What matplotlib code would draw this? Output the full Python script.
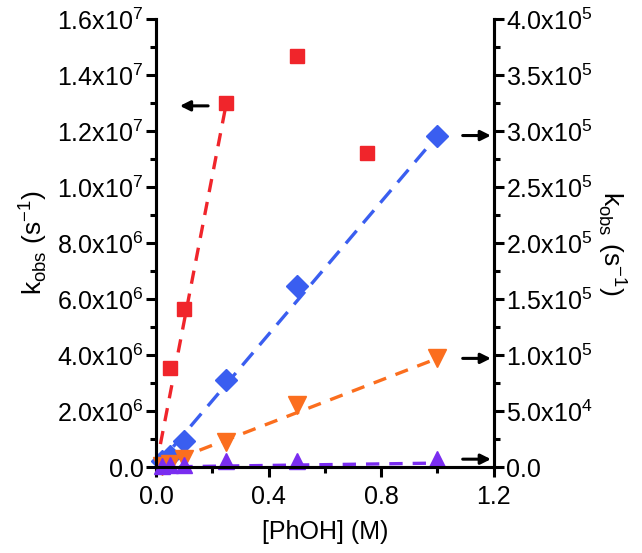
import numpy as np
import matplotlib.pyplot as plt
from matplotlib.ticker import FuncFormatter, MultipleLocator

plt.rcParams['font.family'] = ['Liberation Sans', 'DejaVu Sans']
plt.rcParams['mathtext.fontset'] = 'custom'
plt.rcParams['mathtext.rm'] = 'Liberation Sans'

# red series (left axis)
x_red = [0.05, 0.1, 0.25, 0.5, 0.75]
k_red = [3.55e6, 5.65e6, 1.30e7, 1.467e7, 1.12e7]

# right axis series
x_blue = [0.02, 0.05, 0.1, 0.25, 0.5, 1.0]
k_blue = [5.0e3, 1.0e4, 2.3e4, 7.8e4, 1.62e5, 2.96e5]
x_orange = [0.02, 0.05, 0.1, 0.25, 0.5, 1.0]
k_orange = [1.0e3, 3.0e3, 7.5e3, 2.2e4, 5.5e4, 9.7e4]
x_purple = [0.02, 0.05, 0.1, 0.25, 0.5, 1.0]
k_purple = [1.0e3, 1.5e3, 2.0e3, 5.0e3, 5.5e3, 7.0e3]

# slopes of the dashed linear fits
slope_red = 5.2e7
slope_blue = 2.96e5
slope_orange = 9.7e4
slope_purple = 3.5e3

red = '#f0252b'
blue = '#3a5ef0'
orange = '#fb6e1e'
purple = '#7a2df0'


def sci(v, pos):
    if v == 0:
        return '0.0'
    e = int(np.floor(np.log10(abs(v))))
    m = v / 10**e
    return r'%.1fx10$^{\mathrm{%d}}$' % (m, e)


fig = plt.figure(figsize=(6.42, 5.53), dpi=100)
ax = fig.add_axes([0.243, 0.1555, 0.526, 0.81])
ax2 = ax.twinx()

# fit lines through origin
xl = np.array([0, 0.25])
ax.plot(xl, xl * slope_red, '--', color=red, lw=2.4, dashes=(4, 3))
ax.plot(x_red, k_red, 's', color=red, ms=10, ls='none', clip_on=False)

xl2 = np.array([0, 1.0])
ax2.plot(xl2, xl2 * slope_blue, '--', color=blue, lw=2.4, dashes=(5, 3))
ax2.plot(xl2, xl2 * slope_orange, '--', color=orange, lw=2.4, dashes=(4, 3))
ax2.plot(xl2, xl2 * slope_purple, '--', color=purple, lw=2.4, dashes=(4, 3))
ax2.plot(x_blue, k_blue, 'D', color=blue, ms=11, ls='none', clip_on=False)
ax2.plot(x_orange, k_orange, 'v', color=orange, ms=13, ls='none', clip_on=False)
ax2.plot(x_purple, k_purple, '^', color=purple, ms=11, ls='none', clip_on=False)

ax.set_xlim(0, 1.2)
ax.set_ylim(0, 1.6e7)
ax2.set_ylim(0, 4.0e5)

ax.xaxis.set_major_locator(MultipleLocator(0.4))
ax.xaxis.set_minor_locator(MultipleLocator(0.2))
ax.yaxis.set_major_locator(MultipleLocator(2e6))
ax.yaxis.set_minor_locator(MultipleLocator(1e6))
ax2.yaxis.set_major_locator(MultipleLocator(5e4))
ax2.yaxis.set_minor_locator(MultipleLocator(2.5e4))
ax.yaxis.set_major_formatter(FuncFormatter(sci))
ax2.yaxis.set_major_formatter(FuncFormatter(sci))
ax.xaxis.set_major_formatter(FuncFormatter(lambda v, p: '%.1f' % v))

for a in (ax, ax2):
    a.spines['top'].set_visible(False)
    for s in a.spines.values():
        s.set_linewidth(2.2)
    a.tick_params(which='major', length=7, width=2.2, labelsize=18, pad=2)
    a.tick_params(which='minor', length=4, width=2.2)
ax.tick_params(axis='x', pad=6)

ax.set_xlabel('[PhOH] (M)', fontsize=18, labelpad=8)
ax.set_ylabel(r'k$_{\mathrm{obs}}$ (s$^{\mathrm{-1}}$)', fontsize=19, labelpad=6)
ax2.set_ylabel(r'k$_{\mathrm{obs}}$ (s$^{\mathrm{-1}}$)', fontsize=19,
               rotation=270, labelpad=26)

# arrows pointing to the matching axis
arr = dict(arrowstyle='-|>', color='black', lw=2.2, mutation_scale=15)
ax.annotate('', xy=(0.075, 1.29e7), xytext=(0.195, 1.29e7), arrowprops=arr)
ax2.annotate('', xy=(1.2, k_blue[-1]), xytext=(1.08, k_blue[-1]), arrowprops=arr)
ax2.annotate('', xy=(1.2, k_orange[-1]), xytext=(1.08, k_orange[-1]), arrowprops=arr)
ax2.annotate('', xy=(1.2, k_purple[-1]), xytext=(1.08, k_purple[-1]), arrowprops=arr)

fig.savefig('out.png', dpi=100)
